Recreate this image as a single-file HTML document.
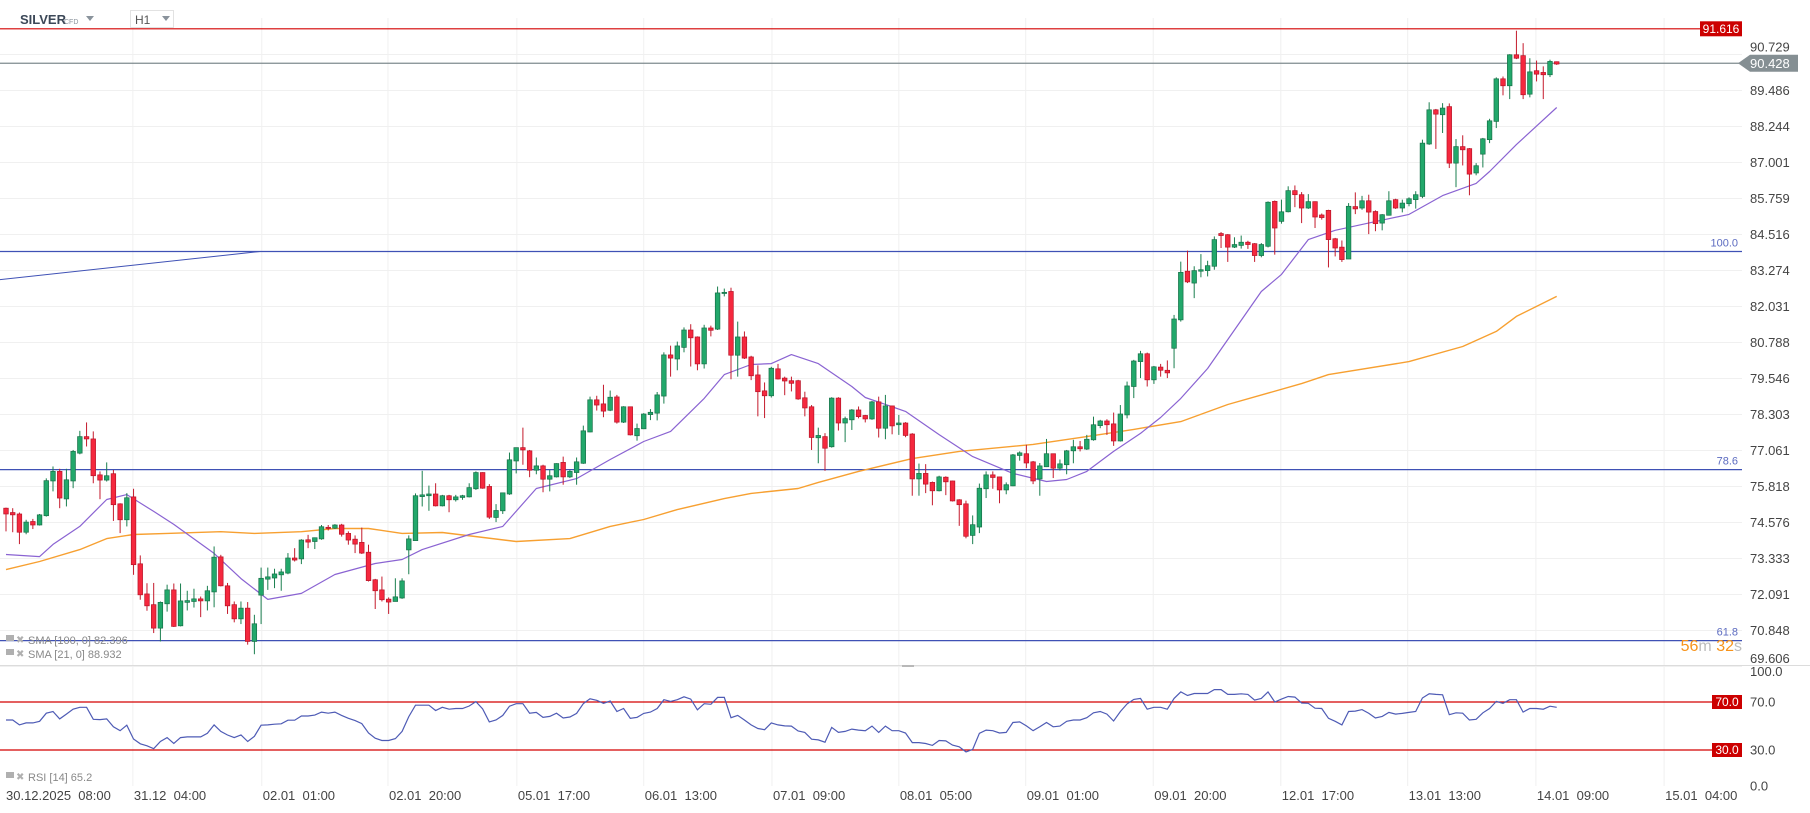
<!DOCTYPE html>
<html><head><meta charset="utf-8"><title>SILVER H1</title>
<style>
html,body{margin:0;padding:0;background:#fff;}
svg{display:block;font-family:"Liberation Sans",sans-serif;}
text{white-space:pre;}
</style></head>
<body>
<svg id="chart" width="1810" height="813" viewBox="0 0 1810 813" xmlns="http://www.w3.org/2000/svg">
<g id="grid"></g>
<g id="fib"></g>
<g id="sma"></g>
<g id="candles"></g>
<g id="rsi"></g>
<g id="axes"></g>
<g>
  <text x="20" y="24" font-size="13" font-weight="bold" fill="#3c4858">SILVER</text>
  <text x="64" y="24" font-size="7" fill="#8a939c">CFD</text>
  <path d="M86 16 L94 16 L90 21 Z" fill="#8a939c"/>
  <rect x="130.5" y="10.5" width="43" height="17" fill="#fff" stroke="#e2e2e2"/>
  <text x="135" y="24" font-size="12" fill="#555">H1</text>
  <path d="M162 16 L170 16 L166 21 Z" fill="#8a939c"/>
</g>
<g>
  <rect x="6" y="635" width="8" height="6" fill="#b0b0b0"/>
  <text x="16" y="643" font-size="10" fill="#b0b0b0">✖</text>
  <text x="28" y="644" font-size="11" fill="#888">SMA [100, 0] 82.396</text>
  <rect x="6" y="649" width="8" height="6" fill="#b0b0b0"/>
  <text x="16" y="657" font-size="10" fill="#b0b0b0">✖</text>
  <text x="28" y="658" font-size="11" fill="#888">SMA [21, 0] 88.932</text>
  <rect x="6" y="772" width="8" height="6" fill="#b0b0b0"/>
  <text x="16" y="780" font-size="10" fill="#b0b0b0">✖</text>
  <text x="28" y="781" font-size="11" fill="#888">RSI [14] 65.2</text>
  <text x="1742" y="651" font-size="16" text-anchor="end"><tspan fill="#f7931a">56</tspan><tspan fill="#bdbdbd">m </tspan><tspan fill="#f7931a">32</tspan><tspan fill="#bdbdbd">s</tspan></text>
</g>
</svg>
<script>
const opens=[75.07,74.92,74.87,74.24,74.61,74.49,74.81,76.01,76.34,75.39,76.01,76.97,77.54,77.46,76.22,76.04,76.26,75.22,74.67,75.46,73.15,72.11,71.74,70.93,71.77,72.25,71.01,71.82,71.85,71.94,71.87,72.18,73.39,72.39,71.74,71.25,71.62,70.47,72.07,72.62,72.66,72.77,72.83,73.35,73.32,73.98,73.92,74.01,74.41,74.38,74.49,74.20,74.00,73.89,73.55,72.60,72.25,71.93,71.85,71.97,73.63,73.95,75.47,75.50,75.56,75.15,75.50,75.36,75.44,75.46,75.74,76.30,75.82,74.75,74.98,75.56,76.70,77.16,77.05,76.38,76.53,76.07,76.15,76.65,76.15,76.30,76.62,77.70,78.81,78.67,78.45,78.91,78.04,78.57,77.57,77.81,78.30,78.35,78.94,80.36,80.22,80.62,81.22,80.98,80.05,81.29,81.25,82.48,82.55,80.35,80.98,80.29,79.67,79.12,78.95,79.88,79.56,79.47,79.47,78.88,78.57,77.50,77.54,77.19,78.87,78.01,78.12,78.46,78.27,78.15,78.74,77.83,78.60,77.95,78.01,77.63,76.08,76.27,75.96,75.67,76.14,76.01,75.36,75.22,74.13,74.42,75.74,76.22,76.15,75.70,75.84,76.89,76.95,76.67,76.08,76.50,76.95,76.45,76.57,77.05,77.19,77.11,77.43,77.92,78.08,77.98,77.39,78.29,79.27,80.13,80.40,79.50,79.94,79.83,80.59,81.57,83.25,82.84,83.25,83.27,83.42,84.55,84.51,84.08,84.14,84.25,84.20,83.79,84.11,85.66,84.97,85.30,86.03,85.89,85.43,85.65,85.19,85.35,84.37,84.08,83.67,85.48,85.43,85.68,85.31,84.91,85.18,85.72,85.43,85.58,85.72,85.83,87.64,88.82,88.65,88.93,86.98,87.55,87.48,86.64,87.29,87.79,88.42,89.89,89.65,90.72,90.69,89.36,90.17,90.11,90.03,90.48];
const highs=[75.09,75.07,74.92,74.67,74.70,74.87,76.10,76.51,76.43,76.43,77.08,77.74,78.03,77.72,76.34,76.65,76.39,75.24,75.59,75.74,73.44,72.48,72.49,71.85,72.43,72.47,72.47,72.22,72.29,72.02,72.39,73.75,73.46,72.49,71.85,71.85,71.83,71.39,73.02,73.02,72.98,72.98,73.52,73.69,74.00,74.15,74.06,74.49,74.49,74.52,74.53,74.27,74.13,74.40,73.81,72.63,72.71,71.99,72.65,72.65,74.13,75.58,76.36,75.85,75.93,75.53,75.53,75.53,75.53,75.93,76.34,76.31,75.90,75.21,75.61,76.99,77.16,77.85,77.08,76.82,76.57,76.39,76.62,76.85,76.39,76.82,77.92,78.92,78.95,79.33,79.13,78.98,78.59,78.58,77.99,78.35,78.49,79.08,80.45,80.68,80.82,81.31,81.42,81.00,81.40,81.37,82.72,82.65,82.68,81.51,81.17,80.33,80.00,79.41,79.95,80.05,79.61,79.61,79.50,79.09,78.63,77.85,77.66,78.90,78.90,78.23,78.49,78.58,78.29,78.77,78.92,78.98,78.61,78.29,78.04,77.66,76.61,76.59,75.99,76.19,76.17,76.02,75.38,75.33,74.82,75.92,76.34,76.34,76.16,75.96,76.94,77.03,77.26,76.70,76.63,77.46,76.95,76.75,77.08,77.43,77.39,77.60,78.23,78.12,78.14,78.37,78.63,79.44,80.19,80.50,80.44,79.98,80.05,80.17,81.74,83.58,83.96,83.42,83.84,83.61,84.45,84.60,84.53,84.42,84.48,84.30,84.22,84.22,85.66,85.69,85.72,86.18,86.21,85.98,85.91,85.66,85.24,85.37,84.40,84.31,85.60,85.97,85.85,85.89,85.35,85.22,86.01,85.75,85.72,85.80,86.01,87.79,89.08,88.85,89.05,89.04,87.81,87.94,87.50,86.98,87.85,88.51,89.94,89.97,90.74,91.55,91.12,90.60,90.52,90.32,90.55,90.49];
const lows=[74.27,74.24,73.83,74.17,74.35,74.47,74.78,75.65,75.07,75.13,75.76,76.93,77.20,75.93,75.38,75.99,74.63,74.21,74.44,72.77,71.91,71.53,70.76,70.47,71.50,70.97,70.99,71.54,71.64,71.31,71.54,71.65,72.37,71.42,71.13,71.07,70.36,70.03,71.07,72.25,72.31,72.22,72.79,73.23,73.14,73.69,73.66,73.98,74.30,74.35,74.09,73.81,73.52,73.49,72.54,71.59,71.85,71.42,71.85,71.94,72.79,73.95,75.13,74.98,75.13,75.13,74.93,75.30,75.36,75.44,75.70,75.74,74.70,74.59,74.87,75.53,76.27,76.57,76.14,76.24,75.62,75.65,76.13,75.88,76.11,75.88,76.60,77.69,78.44,78.21,78.42,77.99,78.01,77.58,77.40,77.80,78.11,78.10,78.68,79.61,79.83,80.45,79.96,79.83,79.89,81.00,81.22,82.38,79.52,79.61,80.22,79.49,78.24,78.18,78.89,79.51,78.97,79.10,78.81,78.24,77.08,76.62,76.36,77.16,77.75,77.35,77.77,78.17,78.03,78.12,77.51,77.45,77.62,77.60,77.52,75.50,75.50,75.59,75.17,75.65,75.52,75.30,74.46,74.03,73.83,74.21,75.42,75.74,75.24,75.55,75.83,76.71,76.45,75.90,75.50,76.49,76.11,76.37,76.24,76.62,77.03,77.08,77.40,77.83,77.60,77.22,77.37,78.17,78.87,79.56,79.27,79.36,79.61,79.56,79.90,81.51,82.84,82.32,83.04,83.07,83.30,84.05,83.57,84.05,84.03,84.02,83.57,83.73,84.07,83.82,84.89,85.28,85.46,84.91,85.40,84.74,85.03,83.38,83.76,83.57,83.67,85.22,85.37,84.53,84.63,84.66,85.17,85.40,85.28,85.49,85.41,85.77,87.61,87.47,88.02,86.81,86.15,86.90,85.87,86.56,86.83,87.67,88.19,89.32,89.19,90.57,89.19,89.25,89.80,89.19,89.95,90.37];
const closes=[74.87,74.84,74.24,74.59,74.49,74.84,76.02,76.34,75.42,76.05,77.03,77.54,77.46,76.19,76.04,76.19,75.19,74.67,75.43,73.12,72.08,71.70,70.93,71.82,72.25,70.99,71.87,71.88,71.94,71.87,72.22,73.38,72.39,71.70,71.25,71.62,70.47,71.08,72.65,72.70,72.80,72.87,73.35,73.28,73.97,73.90,74.05,74.43,74.37,74.49,74.17,73.97,73.83,73.52,72.57,72.22,71.91,71.83,72.01,72.56,74.01,75.50,75.53,75.56,75.15,75.50,75.36,75.46,75.50,75.78,76.30,75.76,74.76,74.99,75.60,76.74,77.16,77.08,76.38,76.53,76.07,76.19,76.61,76.15,76.34,76.67,77.74,78.81,78.63,78.42,78.90,78.04,78.57,77.60,77.82,78.32,78.38,78.98,80.36,80.25,80.67,81.22,80.95,80.05,81.29,81.21,82.50,82.52,80.35,80.98,80.25,79.64,79.09,78.95,79.90,79.53,79.46,79.38,78.84,78.53,77.51,77.58,77.14,78.87,78.01,78.16,78.46,78.23,78.15,78.74,77.83,78.60,77.91,78.01,77.58,76.08,76.27,75.90,75.67,76.15,75.98,75.32,75.19,74.10,74.50,75.76,76.22,76.13,75.70,75.88,76.91,76.98,76.63,76.01,76.53,76.95,76.45,76.60,77.05,77.19,77.12,77.45,77.95,78.08,77.95,77.39,78.32,79.29,80.15,80.40,79.50,79.95,79.83,79.74,81.60,83.21,82.88,83.27,83.30,83.44,84.34,84.48,84.08,84.17,84.25,84.17,83.79,84.17,85.63,84.74,85.30,86.03,85.89,85.43,85.65,85.12,85.10,84.34,84.05,83.65,85.49,85.40,85.68,85.29,84.89,85.20,85.68,85.43,85.60,85.75,85.89,87.67,88.82,88.67,88.88,86.98,87.55,87.44,86.60,86.89,87.82,88.44,89.89,89.65,90.72,90.60,89.34,90.13,90.05,90.03,90.49,90.40];
const sma21Idx=[0,5,7,11,15,18,22,25,31,35,39,44,49,55,59,62,69,74,79,85,90,95,99,104,107,111,114,117,121,126,128,134,139,144,150,155,158,161,165,169,172,175,179,187,190,194,198,204,209,214,219,221,225,231];
const sma21Val=[73.47,73.40,73.82,74.44,75.37,75.54,74.96,74.51,73.51,72.64,71.92,72.13,72.78,73.16,73.30,73.64,74.16,74.44,75.75,76.09,76.75,77.37,77.72,78.86,79.68,80.03,80.06,80.37,80.06,79.27,78.89,78.41,77.61,76.85,76.27,75.99,76.06,76.34,77.03,77.65,78.20,78.86,79.89,82.55,83.14,84.34,84.66,84.96,85.21,85.86,86.28,86.69,87.62,88.90];
const sma100Idx=[0,5,11,15,19,24,32,37,44,49,54,59,65,76,84,90,95,100,107,111,118,121,127,135,142,153,161,168,175,182,193,197,209,217,222,225,231];
const sma100Val=[72.95,73.23,73.64,74.02,74.16,74.20,74.26,74.20,74.26,74.37,74.37,74.20,74.23,73.92,74.02,74.44,74.68,75.02,75.40,75.58,75.75,75.96,76.34,76.78,77.03,77.27,77.54,77.79,78.06,78.65,79.37,79.68,80.13,80.65,81.17,81.69,82.38];
const rsiVals=[55.0,55.0,50.9,52.6,52.6,53.9,60.7,62.1,55.9,59.9,64.0,65.6,65.6,55.6,55.3,55.9,49.3,46.1,50.7,39.2,35.2,33.5,31.1,37.1,40.3,35.4,40.3,40.9,40.9,40.9,43.9,50.9,45.5,42.5,40.3,42.5,37.1,41.4,50.7,50.9,51.5,51.8,54.8,54.8,58.3,58.3,59.1,61.6,60.7,61.6,58.8,56.4,54.5,52.0,44.2,39.8,37.9,37.9,39.5,45.5,57.8,67.3,67.3,67.3,62.9,65.6,64.0,64.6,64.6,66.7,70.3,64.3,53.4,55.0,58.8,66.5,68.6,68.6,60.7,61.3,57.2,58.0,60.7,
56.7,57.5,60.5,68.6,72.7,71.4,68.9,70.8,62.1,64.6,56.4,57.2,60.5,61.6,64.6,71.9,70.5,71.9,74.3,72.4,63.5,68.6,68.1,73.8,73.8,56.9,58.8,55.0,50.9,47.9,46.9,52.6,50.9,50.1,49.9,45.8,44.7,39.0,38.4,36.5,48.8,44.7,45.5,47.4,46.6,46.1,49.9,44.7,49.9,46.1,46.1,44.2,36.2,36.2,35.4,33.8,37.9,37.6,34.1,32.7,28.4,30.5,43.9,46.6,46.1,44.2,44.7,52.9,53.4,50.1,46.1,49.3,52.9,49.3,49.9,53.9,55.0,55.0,56.9,61.0,62.1,59.9,
54.2,62.1,68.4,72.2,73.0,64.0,65.6,65.6,64.0,73.0,78.4,75.4,77.1,77.1,77.1,80.3,80.3,76.3,76.3,76.8,76.3,71.6,73.0,78.4,70.0,72.4,74.6,74.1,69.2,68.9,64.8,64.6,56.4,53.9,50.9,62.1,62.4,63.7,60.7,56.7,58.0,61.3,59.9,60.5,61.3,62.1,73.3,76.8,76.3,76.0,59.4,61.0,60.7,55.0,55.6,61.0,64.6,70.5,68.9,71.9,71.9,61.6,64.6,64.6,64.0,66.5,65.6];
const priceTicks=[90.729,89.486,88.244,87.001,85.759,84.516,83.274,82.031,80.788,79.546,78.303,77.061,75.818,74.576,73.333,72.091,70.848,69.606];
const rsiTicks=[100,70,30,0];
const dateLabels=["31.12  04:00","02.01  01:00","02.01  20:00","05.01  17:00","06.01  13:00","07.01  09:00","08.01  05:00","09.01  01:00","09.01  20:00","12.01  17:00","13.01  13:00","14.01  09:00","15.01  04:00"];
const dateTickIdx=[18.9,38.1,56.9,76.1,95.0,114.1,133.0,151.9,170.9,189.9,208.8,227.9,247.0];
const fibLabels=["100.0","78.6","61.8"];
const fibPrices=[83.93,76.40,70.50];
const fibStartPrice=82.96;
const lastPrice=90.428, highLevel=91.616;

const NS="http://www.w3.org/2000/svg";
const N=closes.length;
const X0=6, X1=1556.7, PLOT_R=1742;
function xAt(i){return X0+(X1-X0)*i/(N-1);}
function yP(p){return 54.5+(90.729-p)*36/1.24255;}
function yR(v){return 786-v*1.2;}
function mk(tag,attrs,parent){const e=document.createElementNS(NS,tag);for(const k in attrs)e.setAttribute(k,attrs[k]);parent.appendChild(e);return e;}
const G=id=>document.getElementById(id);

// grid
const grid=G('grid');
priceTicks.forEach(p=>{const l=mk('line',{x1:0,x2:PLOT_R,y1:yP(p),y2:yP(p),stroke:'#f0f0f0','stroke-width':1},grid);

});
dateTickIdx.forEach(t=>{const l=mk('line',{x1:xAt(t),x2:xAt(t),y1:18,y2:786,stroke:'#f0f0f0','stroke-width':1},grid);

});
{const l=mk('line',{x1:0,x2:1810,y1:665.5,y2:665.5,stroke:'#dcdcdc','stroke-width':1},grid);


const h=mk('rect',{x:902,y:665,width:12,height:2,fill:'#b8b8b8'},grid);

}

// fib levels
const fib=G('fib');
{const d=mk('line',{x1:0,y1:yP(fibStartPrice),x2:260,y2:yP(fibPrices[0]),stroke:'#3f51b5','stroke-width':1},fib);

}
fibPrices.forEach((p,k)=>{const l=mk('line',{x1:0,x2:PLOT_R,y1:yP(p),y2:yP(p),stroke:'#3f51b5','stroke-width':1.2},fib);


const t=mk('text',{x:1738,y:yP(p)-5,'text-anchor':'end','font-size':11,fill:'#5c6bc0'},fib);t.textContent=fibLabels[k];

});
{const l=mk('line',{x1:0,x2:PLOT_R,y1:yP(highLevel),y2:yP(highLevel),stroke:'#d40000','stroke-width':1.2},fib);


const r=mk('rect',{x:1700,y:yP(highLevel)-7.5,width:42,height:15,fill:'#cc0000'},fib);


const t=mk('text',{x:1721,y:yP(highLevel)+4,'text-anchor':'middle','font-size':12,fill:'#fff'},fib);t.textContent=highLevel.toFixed(3);

}
{const y=yP(lastPrice);
const l=mk('line',{x1:0,x2:1740,y1:y,y2:y,stroke:'#7f8b8f','stroke-width':1.2},fib);


const tg=mk('path',{d:`M1738 ${y} L1750 ${y-8.5} L1798 ${y-8.5} L1798 ${y+8.5} L1750 ${y+8.5} Z`,fill:'#858f93'},fib);


const t=mk('text',{x:1750,y:y+5,'font-size':13,fill:'#fff'},fib);t.textContent=lastPrice.toFixed(3);

}

// SMA lines
const sma=G('sma');
function pl(idx,vals,color,w,name){const pts=idx.map((i,k)=>xAt(i).toFixed(1)+','+yP(vals[k]).toFixed(1)).join(' ');
const e=mk('polyline',{points:pts,fill:'none',stroke:color,'stroke-width':w,'stroke-linejoin':'round'},sma);

}
pl(sma100Idx,sma100Val,'#f7a031',1.4,'sma-100-line');
pl(sma21Idx,sma21Val,'#8a63d2',1.2,'sma-21-line');

// candles
const cg=G('candles');
for(let i=0;i<N;i++){
  const o=opens[i],c=closes[i],h=highs[i],l=lows[i],up=c>=o;
  const x=xAt(i);
  const g=mk('g',{},cg);
  
  
  mk('line',{x1:x,x2:x,y1:yP(h),y2:yP(l),stroke:up?'#1a7f4f':'#c41a2c','stroke-width':1},g);
  const yt=yP(Math.max(o,c)),yb=yP(Math.min(o,c));
  mk('rect',{x:x-2.3,y:yt,width:4.6,height:Math.max(1,yb-yt),fill:up?'#22a86b':'#f5283e',stroke:up?'#177048':'#b81428','stroke-width':0.7},g);
}

// RSI
const rg=G('rsi');
[70,30].forEach(v=>{const l=mk('line',{x1:0,x2:PLOT_R,y1:yR(v),y2:yR(v),stroke:'#d40000','stroke-width':1.2},rg);


const r=mk('rect',{x:1712,y:yR(v)-7,width:30,height:14,fill:'#cc0000'},rg);


const t=mk('text',{x:1727,y:yR(v)+4,'text-anchor':'middle','font-size':12,fill:'#fff'},rg);t.textContent=v.toFixed(1);

});
{const pts=rsiVals.map((v,i)=>xAt(i).toFixed(1)+','+yR(v).toFixed(1)).join(' ');
const e=mk('polyline',{points:pts,fill:'none',stroke:'#4e5bb5','stroke-width':1.2},rg);

}

// axes labels
const ax=G('axes');
priceTicks.forEach((p,k)=>{if(k===0)return;const y=Math.min(yP(p)+4.5,663);
const t=mk('text',{x:1750,y:y,'font-size':13,fill:'#444'},ax);t.textContent=p.toFixed(3);

});
{const t=mk('text',{x:1750,y:yP(priceTicks[0])-3,'font-size':13,fill:'#444'},ax);t.textContent=priceTicks[0].toFixed(3);


ax.insertBefore(t,ax.firstChild);
G('fib').appendChild(G('fib').lastChild.previousSibling);G('fib').appendChild(G('fib').lastChild.previousSibling);
document.getElementById('chart').insertBefore(ax,G('fib'));}
rsiTicks.forEach(v=>{const y=v===100?yR(v)+10:yR(v)+4.5;
const t=mk('text',{x:1750,y:y,'font-size':13,fill:'#444'},ax);t.textContent=v.toFixed(1);

});
{const t=mk('text',{x:6,y:800,'font-size':13,fill:'#444'},ax);t.textContent="30.12.2025  08:00";

}
dateLabels.forEach((s,k)=>{const t=mk('text',{x:xAt(dateTickIdx[k])+1,y:800,'font-size':13,fill:'#444'},ax);t.textContent=s;

});
</script>
</body></html>
